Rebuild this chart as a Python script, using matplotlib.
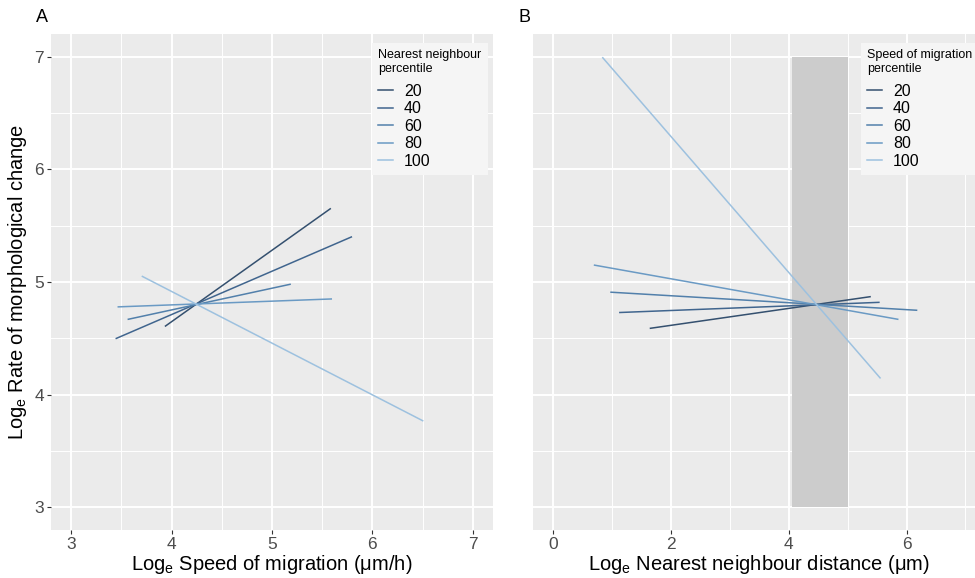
import matplotlib
matplotlib.use("Agg")
import matplotlib.pyplot as plt
from matplotlib.ticker import MultipleLocator

plt.rcParams['font.family'] = ['Liberation Sans', 'DejaVu Sans']
plt.rcParams['mathtext.default'] = 'regular'

# data
pct = [20, 40, 60, 80, 100]
colors = ['#34506f', '#40658e', '#5280ab', '#6a9ac4', '#9dc1df']

# panel A: rate vs speed of migration, per nearest neighbour percentile
a_x0 = [3.94, 3.45, 3.57, 3.47, 3.71]
a_x1 = [5.58, 5.79, 5.18, 5.59, 6.50]
a_y0 = [4.61, 4.50, 4.67, 4.78, 5.05]
a_y1 = [5.65, 5.40, 4.98, 4.85, 3.77]

# panel B: rate vs nearest neighbour distance, per speed percentile
b_x0 = [1.65, 1.13, 0.98, 0.70, 0.84]
b_x1 = [5.38, 5.53, 6.17, 5.85, 5.55]
b_y0 = [4.59, 4.73, 4.91, 5.15, 6.99]
b_y1 = [4.87, 4.82, 4.75, 4.67, 4.15]

band_x = [4.06, 5.00]
band_y = [3.0, 7.0]

fig = plt.figure(figsize=(9.75, 5.78), dpi=100)
ax1 = fig.add_axes([0.0523, 0.083, 0.4533, 0.858])
ax2 = fig.add_axes([0.5464, 0.083, 0.4649, 0.858])


def style_panel(ax):
    ax.set_facecolor('#ebebeb')
    for s in ax.spines.values():
        s.set_visible(False)
    ax.set_axisbelow(True)
    ax.grid(which='major', color='white', linewidth=1.4)
    ax.grid(which='minor', color='white', linewidth=0.7)
    ax.tick_params(which='major', length=3, color='#333333', labelsize=12.5,
                   labelcolor='#4d4d4d', pad=2)
    ax.tick_params(which='minor', length=0)
    ax.set_ylim(2.8, 7.2)
    ax.yaxis.set_major_locator(MultipleLocator(1))
    ax.yaxis.set_minor_locator(MultipleLocator(0.5))


def add_legend(ax, title, x):
    leg = ax.legend(title=title, loc='upper left', bbox_to_anchor=(x, 0.982),
                    fontsize=11.5, title_fontsize=9, frameon=True, fancybox=False,
                    framealpha=1, facecolor='#f5f5f5', edgecolor='none',
                    handlelength=0.9, handletextpad=0.7, labelspacing=0.16,
                    borderpad=0.4, borderaxespad=0, alignment='left')
    # a bit more room between the title and the keys
    leg._legend_box.sep = 6
    return leg


# panel A
style_panel(ax1)
for i in range(len(pct)):
    ax1.plot([a_x0[i], a_x1[i]], [a_y0[i], a_y1[i]], color=colors[i],
             linewidth=1.1, label=str(pct[i]))
ax1.set_xlim(2.8, 7.2)
ax1.xaxis.set_major_locator(MultipleLocator(1))
ax1.xaxis.set_minor_locator(MultipleLocator(0.5))
ax1.set_xlabel('Log$_e$ Speed of migration (μm/h)', fontsize=14.5, labelpad=1)
ax1.set_ylabel('Log$_e$ Rate of morphological change', fontsize=14.5, labelpad=4)
add_legend(ax1, 'Nearest neighbour\npercentile', 0.726)

# panel B
style_panel(ax2)
ax2.fill_between(band_x, band_y[0], band_y[1], color='#cccccc', linewidth=0, zorder=1.5)
for i in range(len(pct)):
    ax2.plot([b_x0[i], b_x1[i]], [b_y0[i], b_y1[i]], color=colors[i],
             linewidth=1.1, label=str(pct[i]), zorder=3)
ax2.set_xlim(-0.35, 7.35)
ax2.xaxis.set_major_locator(MultipleLocator(2))
ax2.xaxis.set_minor_locator(MultipleLocator(1))
ax2.tick_params(axis='y', left=False, labelleft=False)
ax2.set_xlabel('Log$_e$ Nearest neighbour distance (μm)', fontsize=14.5, labelpad=1)
add_legend(ax2, 'Speed of migration\npercentile', 0.724)

fig.text(0.037, 0.985, 'A', fontsize=13, va='top', ha='left')
fig.text(0.532, 0.985, 'B', fontsize=13, va='top', ha='left')

plt.savefig('out.png', dpi=100)
